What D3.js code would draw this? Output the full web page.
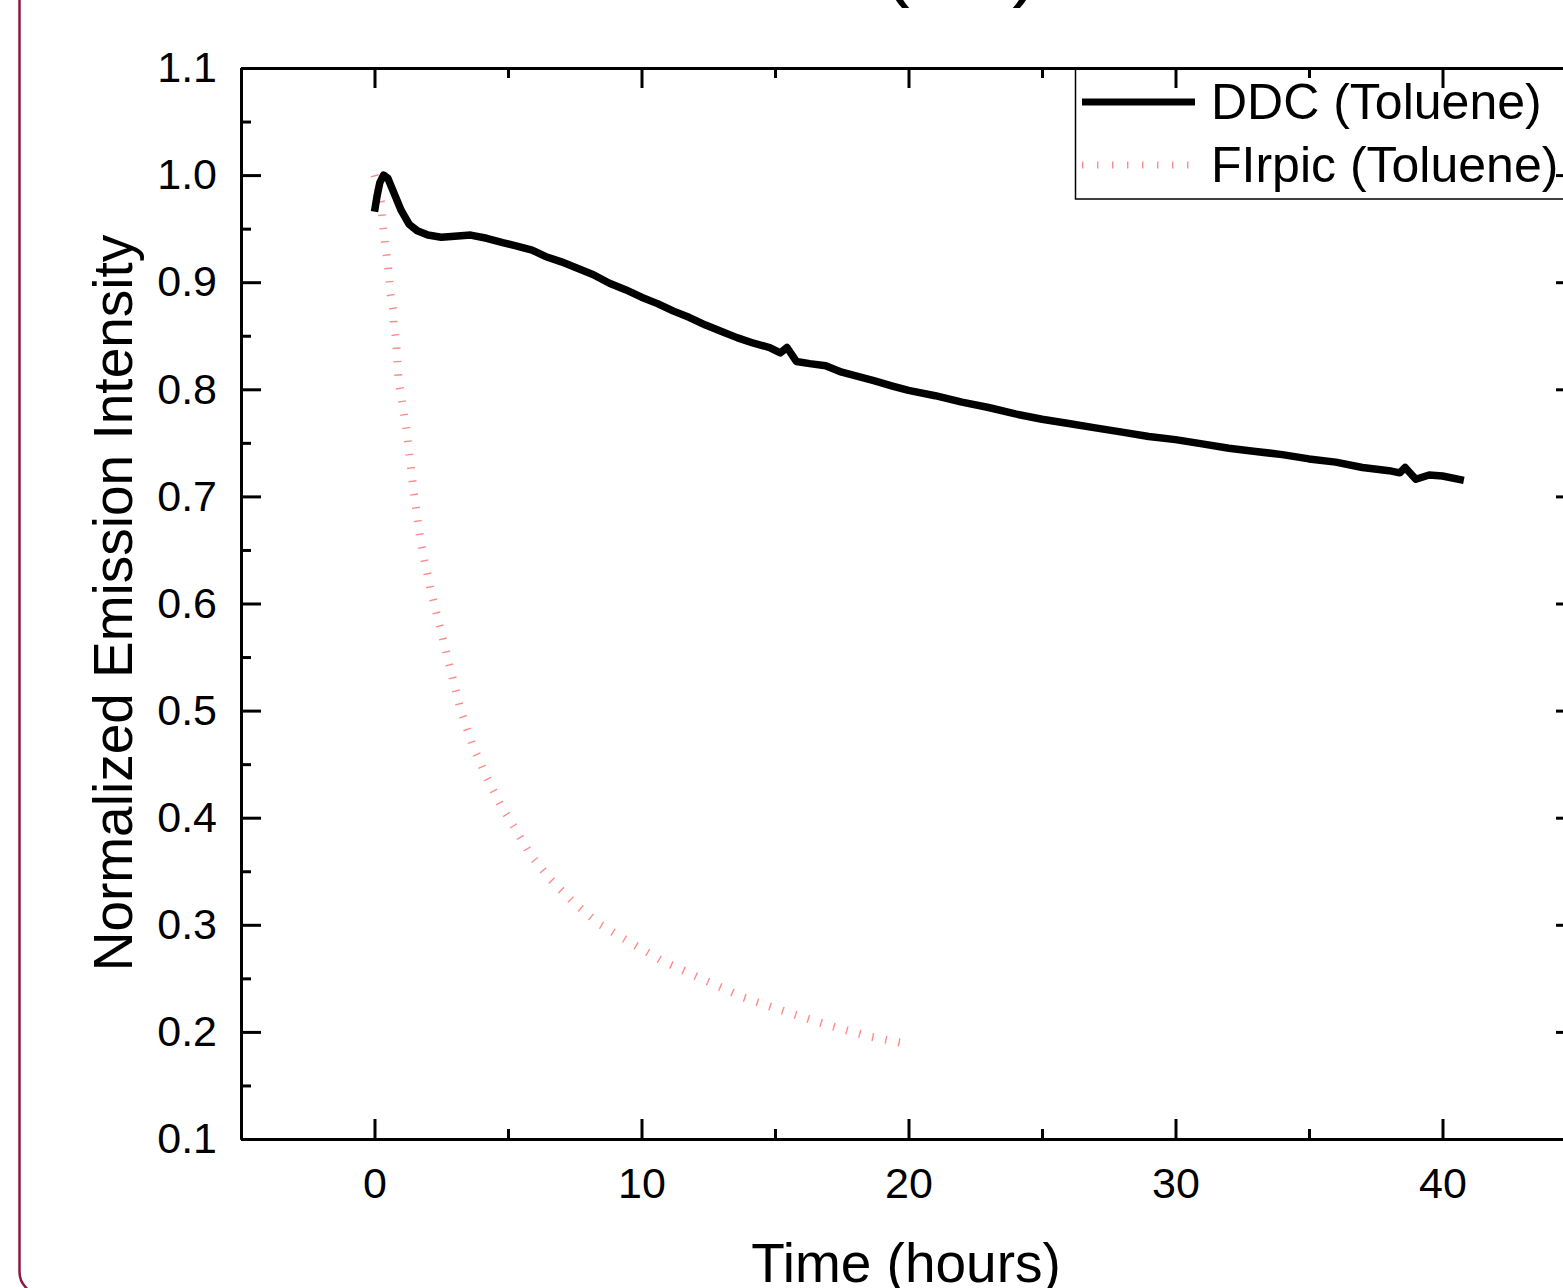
<!DOCTYPE html>
<html>
<head>
<meta charset="utf-8">
<script src="https://cdn.jsdelivr.net/npm/d3@7"></script>
<style>
  body { margin: 0; background: #fff; }
  svg { display: block; font-family: "Liberation Sans", Arial, sans-serif; }
</style>
</head>
<body>
<div id="chart-area"></div>
<script>
// DDC (Toluene)
var ddcTime = [0, 0.1, 0.2, 0.34, 0.5, 0.75, 1.0, 1.3, 1.6, 2.0, 2.5, 3.0, 3.6, 4.2, 4.8, 5.3, 5.9, 6.4, 7.0,
    7.6, 8.2, 8.8, 9.4, 10.0, 10.6, 11.2, 11.8, 12.4, 13.0, 13.6, 14.2, 14.8, 15.2, 15.45, 15.8, 16.3, 16.9,
    17.5, 18.1, 18.7, 19.4, 20, 21, 22, 23, 24, 25, 26, 27, 28, 29, 30, 31, 32, 33, 34, 35, 36, 37, 38,
    38.4, 38.6, 39.0, 39.5, 40.0, 40.8];
var ddcValue = [0.966, 0.981, 0.993, 1.0, 0.997, 0.982, 0.967, 0.954, 0.948, 0.944, 0.942, 0.943, 0.944, 0.941,
    0.937, 0.934, 0.930, 0.924, 0.919, 0.913, 0.907, 0.899, 0.893, 0.886, 0.880, 0.873, 0.867, 0.860, 0.854,
    0.848, 0.843, 0.839, 0.834, 0.839, 0.826, 0.824, 0.822, 0.816, 0.812, 0.808, 0.803, 0.799, 0.794, 0.788,
    0.783, 0.777, 0.772, 0.768, 0.764, 0.760, 0.756, 0.753, 0.749, 0.745, 0.742, 0.739, 0.735, 0.732, 0.727,
    0.724, 0.722, 0.727, 0.716, 0.720, 0.719, 0.715];

// FIrpic (Toluene)
var firTime = [0, 0.15, 0.25, 0.3, 0.35, 0.42, 0.5, 0.55, 0.6, 0.7, 0.72, 0.8, 0.9, 1.2, 1.46, 1.72, 2.1, 2.66,
    3.22, 3.67, 4.16, 4.72, 5.29, 5.85, 6.6, 7.54, 8.47, 9.41, 10.72, 12.22, 13.84, 15.49, 17.17, 18.49, 20.1];
var firValue = [1.0, 0.986, 0.974, 0.958, 0.945, 0.931, 0.917, 0.903, 0.889, 0.875, 0.862, 0.848, 0.809, 0.762,
    0.706, 0.659, 0.613, 0.557, 0.501, 0.468, 0.440, 0.412, 0.389, 0.365, 0.342, 0.319, 0.300, 0.286, 0.267,
    0.250, 0.232, 0.218, 0.205, 0.196, 0.188];

var xMajor = [0, 10, 20, 30, 40];
var xMinor = [-5, 5, 15, 25, 35, 45];
var yMajor = [0.1, 0.2, 0.3, 0.4, 0.5, 0.6, 0.7, 0.8, 0.9, 1.0, 1.1];
var yMinor = [0.15, 0.25, 0.35, 0.45, 0.55, 0.65, 0.75, 0.85, 0.95, 1.05];

var seriesNames = ["DDC (Toluene)", "FIrpic (Toluene)"];

var W = 1563, H = 1288;
var plotLeft = 241, plotRight = 1576, plotTop = 68, plotBottom = 1139;

var svg = d3.select("#chart-area").append("svg")
    .attr("width", W)
    .attr("height", H);

// frame round the whole figure
svg.append("rect")
    .attr("x", 19.5).attr("y", -40)
    .attr("width", 1650).attr("height", 1334)
    .attr("rx", 22)
    .attr("fill", "none")
    .attr("stroke", "#8b1a3c")
    .attr("stroke-width", 2.5);

// title (only the bottom of its brackets shows)
svg.append("text")
    .attr("x", 961).attr("y", -9)
    .attr("text-anchor", "middle")
    .attr("font-size", "84px")
    .text("(Air)");

var x = d3.scaleLinear().domain([-5, 45]).range([plotLeft, plotRight]);
var y = d3.scaleLinear().domain([0.1, 1.1]).range([plotBottom, plotTop]);

var line = d3.line()
    .x(function(d) { return x(d[0]); })
    .y(function(d) { return y(d[1]); });

var ddc = ddcTime.map(function(t, i) { return [t, ddcValue[i]]; });
var fir = firTime.map(function(t, i) { return [t, firValue[i]]; });

svg.append("path")
    .datum(fir)
    .attr("d", line)
    .attr("fill", "none")
    .attr("stroke", "#ff8a8a")
    .attr("stroke-width", 8)
    .attr("stroke-dasharray", "1.4 12");

svg.append("path")
    .datum(ddc)
    .attr("d", line)
    .attr("fill", "none")
    .attr("stroke", "#000")
    .attr("stroke-width", 7.5)
    .attr("stroke-linejoin", "round");

// legend
var lg = svg.append("g");
lg.append("rect")
    .attr("x", 1075.5).attr("y", 68)
    .attr("width", 520).attr("height", 131)
    .attr("fill", "#fff")
    .attr("stroke", "#000")
    .attr("stroke-width", 1.5);
lg.append("line")
    .attr("x1", 1082).attr("x2", 1195)
    .attr("y1", 102).attr("y2", 102)
    .attr("stroke", "#000").attr("stroke-width", 7);
lg.append("line")
    .attr("x1", 1082).attr("x2", 1195)
    .attr("y1", 165).attr("y2", 165)
    .attr("stroke", "#ff8a8a").attr("stroke-width", 7)
    .attr("stroke-dasharray", "1.4 13.6");
lg.selectAll("text.leg").data(seriesNames).enter().append("text")
    .attr("class", "leg")
    .attr("x", 1211)
    .attr("y", function(d, i) { return 119 + i * 63; })
    .attr("font-size", "50px")
    .text(function(d) { return d; });

// axes
function styleAxis(g, noLabels) {
    g.select(".domain").attr("stroke-width", 3);
    g.selectAll(".tick line").attr("stroke-width", 3);
    g.selectAll(".tick text").attr("font-size", "43px").attr("fill", "#000");
    if (noLabels) g.selectAll(".tick text").remove();
}

var xAxisCall = d3.axisBottom(x).tickValues(xMajor).tickSizeInner(-20).tickSizeOuter(0).tickPadding(28)
    .tickFormat(d3.format("d"));
var xAxisMinor = d3.axisBottom(x).tickValues(xMinor).tickSizeInner(-10).tickSizeOuter(0);
var xTopCall = d3.axisTop(x).tickValues(xMajor).tickSizeInner(-20).tickSizeOuter(0);
var xTopMinor = d3.axisTop(x).tickValues(xMinor).tickSizeInner(-10).tickSizeOuter(0);

var yAxisCall = d3.axisLeft(y).tickValues(yMajor).tickSizeInner(-20).tickSizeOuter(0).tickPadding(24)
    .tickFormat(d3.format(".1f"));
var yAxisMinor = d3.axisLeft(y).tickValues(yMinor).tickSizeInner(-10).tickSizeOuter(0);
var yRightCall = d3.axisRight(y).tickValues(yMajor).tickSizeInner(-20).tickSizeOuter(0);
var yRightMinor = d3.axisRight(y).tickValues(yMinor).tickSizeInner(-10).tickSizeOuter(0);

svg.append("g").attr("transform", "translate(0," + plotBottom + ")").call(xAxisMinor).call(styleAxis, true);
svg.append("g").attr("transform", "translate(0," + plotBottom + ")").call(xAxisCall).call(styleAxis, false);
svg.append("g").attr("transform", "translate(0," + plotTop + ")").call(xTopMinor).call(styleAxis, true);
svg.append("g").attr("transform", "translate(0," + plotTop + ")").call(xTopCall).call(styleAxis, true);

svg.append("g").attr("transform", "translate(" + plotLeft + ",0)").call(yAxisMinor).call(styleAxis, true);
svg.append("g").attr("transform", "translate(" + plotLeft + ",0)").call(yAxisCall).call(styleAxis, false);
svg.append("g").attr("transform", "translate(" + plotRight + ",0)").call(yRightMinor).call(styleAxis, true);
svg.append("g").attr("transform", "translate(" + plotRight + ",0)").call(yRightCall).call(styleAxis, true);

svg.selectAll(".tick text").attr("font-family", "Liberation Sans, Arial, sans-serif");

// axis titles
svg.append("text")
    .attr("x", 906).attr("y", 1282)
    .attr("text-anchor", "middle")
    .attr("font-size", "55px")
    .text("Time (hours)");

svg.append("text")
    .attr("transform", "translate(132,603) rotate(-90)")
    .attr("text-anchor", "middle")
    .attr("font-size", "55px")
    .text("Normalized Emission Intensity");
</script>
</body>
</html>
